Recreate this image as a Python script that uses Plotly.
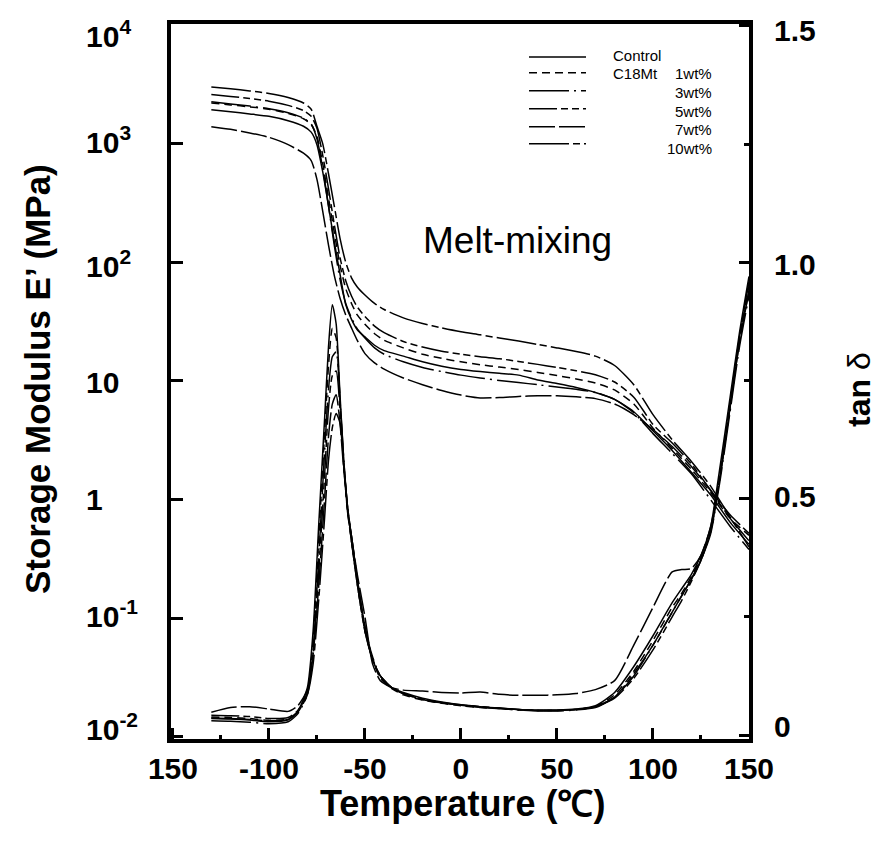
import plotly.graph_objects as go
import math

# ---------------- data ----------------
series_names = ["Control", "1wt%", "3wt%", "5wt%", "7wt%", "10wt%"]

temp_E = [-130, -120, -110, -100, -90, -82, -78, -75, -72, -69, -66, -63, -60, -57, -54,
          -50, -45, -40, -30, -20, -10, 0, 10, 20, 30, 40, 50, 60, 70, 80, 90, 100,
          110, 120, 130, 140, 150]

E_control = [1930, 1860, 1780, 1700, 1560, 1400, 1250, 980, 580, 300, 150, 80, 44, 33, 27,
             23.5, 20, 18, 16.2, 14.5, 13.3, 12.5, 12, 11.6, 11.2, 10.2, 9.5, 8.8, 8.0, 7.0,
             5.5, 3.8, 2.6, 1.7, 1.1, 0.65, 0.42]
E_1wt = [2200, 2120, 2040, 1950, 1800, 1620, 1450, 1150, 680, 350, 180, 95, 60, 45, 36,
         30, 25, 22, 19, 16.8, 15.5, 14.5, 13.7, 13.1, 12.5, 11.8, 11.1, 10.4, 9.6, 8.4,
         6.4, 4.0, 2.7, 1.8, 1.15, 0.7, 0.5]
E_3wt = [2250, 2160, 2070, 1970, 1820, 1640, 1460, 1100, 620, 300, 140, 72, 45, 34, 27.5,
         23, 19, 16.8, 14.5, 13, 12, 11.2, 10.6, 10.1, 9.7, 9.3, 8.9, 8.5, 8.0, 7.0,
         5.4, 3.6, 2.45, 1.65, 1.0, 0.6, 0.38]
E_5wt = [2600, 2500, 2400, 2280, 2100, 1900, 1700, 1350, 800, 420, 210, 110, 70, 52, 42,
         35, 29, 25.5, 21.5, 19.3, 17.8, 16.8, 16, 15.4, 14.6, 13.8, 13, 12.2, 11.3, 9.8,
         7.3, 4.3, 3.0, 2.0, 1.2, 0.7, 0.45]
E_7wt = [1390, 1320, 1230, 1130, 980, 830, 720, 500, 270, 140, 78, 50, 36, 28, 22,
         17, 14.2, 12.6, 10.6, 9.3, 8.3, 7.6, 7.2, 7.25, 7.4, 7.5, 7.5, 7.35, 7.1, 6.4,
         5.2, 3.9, 2.8, 1.9, 1.2, 0.75, 0.52]
E_10wt = [3000, 2900, 2780, 2650, 2450, 2200, 1950, 1400, 1000, 560, 300, 160, 100, 74, 62,
          53, 45, 40, 34, 30.5, 28, 26, 24.5, 23, 21.7, 20.3, 19, 17.7, 16.2, 13.5,
          9.3, 5.2, 3.2, 2.1, 1.3, 0.72, 0.4]

temp_tan = [-130, -120, -110, -100, -90, -85, -80, -77, -74, -71, -69, -67, -65, -63, -61,
            -59, -57, -54, -50, -46, -42, -36, -30, -20, -10, 0, 10, 20, 30, 40, 50, 60,
            70, 80, 90, 100, 110, 115, 120, 125, 130, 135, 140, 145, 150]

tan_control = [0.035, 0.034, 0.032, 0.028, 0.032, 0.05, 0.10, 0.22, 0.45, 0.67, 0.82, 0.91,
               0.87, 0.72, 0.58, 0.47, 0.42, 0.33, 0.23, 0.16, 0.125, 0.10, 0.09, 0.078,
               0.07, 0.064, 0.06, 0.057, 0.054, 0.053, 0.053, 0.055, 0.062, 0.09, 0.145,
               0.21, 0.28, 0.31, 0.34, 0.38, 0.44, 0.57, 0.71, 0.85, 0.97]
tan_1wt = [0.038, 0.037, 0.035, 0.031, 0.034, 0.05, 0.09, 0.20, 0.42, 0.64, 0.78, 0.86,
           0.84, 0.71, 0.57, 0.47, 0.41, 0.32, 0.22, 0.16, 0.12, 0.098, 0.085, 0.074,
           0.067, 0.062, 0.058, 0.056, 0.053, 0.052, 0.052, 0.054, 0.06, 0.085, 0.135,
           0.20, 0.27, 0.30, 0.335, 0.375, 0.43, 0.55, 0.70, 0.84, 0.95]
tan_3wt = [0.030, 0.029, 0.027, 0.024, 0.028, 0.045, 0.085, 0.18, 0.38, 0.60, 0.73, 0.80,
           0.81, 0.71, 0.58, 0.48, 0.42, 0.33, 0.23, 0.165, 0.125, 0.10, 0.087, 0.075,
           0.068, 0.063, 0.059, 0.056, 0.053, 0.051, 0.051, 0.053, 0.058, 0.08, 0.125,
           0.19, 0.26, 0.295, 0.33, 0.37, 0.425, 0.54, 0.68, 0.82, 0.93]
tan_5wt = [0.042, 0.041, 0.039, 0.035, 0.037, 0.052, 0.09, 0.17, 0.35, 0.55, 0.69, 0.76,
           0.77, 0.69, 0.57, 0.48, 0.41, 0.32, 0.22, 0.16, 0.125, 0.10, 0.088, 0.076,
           0.069, 0.064, 0.06, 0.057, 0.054, 0.052, 0.052, 0.054, 0.06, 0.078, 0.12,
           0.18, 0.25, 0.285, 0.325, 0.37, 0.43, 0.55, 0.69, 0.83, 0.94]
tan_7wt = [0.048, 0.058, 0.06, 0.055, 0.05, 0.062, 0.095, 0.17, 0.32, 0.50, 0.63, 0.70,
           0.72, 0.66, 0.56, 0.48, 0.42, 0.34, 0.25, 0.15, 0.115, 0.10, 0.095, 0.093,
           0.09, 0.089, 0.091, 0.086, 0.084, 0.084, 0.085, 0.088, 0.096, 0.115, 0.19,
           0.27, 0.345, 0.35, 0.352, 0.38, 0.44, 0.55, 0.69, 0.83, 0.94]
tan_10wt = [0.036, 0.035, 0.033, 0.03, 0.033, 0.048, 0.085, 0.15, 0.29, 0.46, 0.58, 0.65,
            0.68, 0.66, 0.57, 0.48, 0.41, 0.32, 0.22, 0.16, 0.125, 0.10, 0.088, 0.075,
            0.068, 0.063, 0.059, 0.056, 0.054, 0.052, 0.052, 0.054, 0.06, 0.08, 0.13,
            0.19, 0.26, 0.295, 0.33, 0.37, 0.43, 0.55, 0.69, 0.84, 0.96]

E_series = [E_control, E_1wt, E_3wt, E_5wt, E_7wt, E_10wt]
tan_series = [tan_control, tan_1wt, tan_3wt, tan_5wt, tan_7wt, tan_10wt]

x_tickvals = [-150, -100, -50, 0, 50, 100, 150]
x_ticktext = ["150", "-100", "-50", "0", "50", "100", "150"]
x_minor = [-125, -75, -25, 25, 75, 125]
E_tickvals = [1e4, 1e3, 1e2, 10, 1, 0.1, 0.01]
E_ticktext = ["10<sup>4</sup>", "10<sup>3</sup>", "10<sup>2</sup>", "10", "1",
              "10<sup>-1</sup>", "10<sup>-2</sup>"]
tan_tickvals = [0, 0.5, 1.0, 1.5]
tan_ticktext = ["0", "0.5", "1.0", "1.5"]
tan_minor = [0.25, 0.75, 1.25]

# ---------------- styles ----------------
FONT = "Liberation Sans, Arial, Helvetica, sans-serif"
dashes = ["solid", "8px,5px", "40px,5px,2px,5px", "28px,4px,7px,4px,7px,4px",
          "26px,4px", "40px,4px,7px,4px"]
E_label_shift = [-9, 4, -2, -2, 0, 4, 10]
tan_label_shift = [9, 2, -2, -5]

W, H = 881, 852
L, R, T, B = 163, 741, 14, 731


def px(x):
    return (x - L) / (R - L)


def py(y):
    return (B - y) / (B - T)


fig = go.Figure()
for name, ys, d in zip(series_names, E_series, dashes):
    fig.add_trace(go.Scatter(x=temp_E, y=ys, mode="lines", name=name,
                             line=dict(color="black", width=1.5, dash=d, shape="spline",
                                       smoothing=0.6),
                             showlegend=False, yaxis="y"))
for name, ys, d in zip(series_names, tan_series, dashes):
    fig.add_trace(go.Scatter(x=temp_tan, y=ys, mode="lines", name=name + " tanδ",
                             line=dict(color="black", width=1.5, dash=d, shape="spline",
                                       smoothing=0.6),
                             showlegend=False, yaxis="y2"))

fig.update_layout(
    width=W, height=H,
    margin=dict(l=L, r=W - R, t=T, b=H - B, pad=0),
    paper_bgcolor="white", plot_bgcolor="white",
    font=dict(family=FONT, color="black"),
    showlegend=False,
    xaxis=dict(range=[-151, 150], tickmode="array", tickvals=x_tickvals,
               ticktext=x_ticktext, ticks="inside", ticklen=11, tickwidth=3,
               tickcolor="black", showline=True, linewidth=4, linecolor="black",
               mirror=True, showgrid=False, zeroline=False,
               tickfont=dict(size=30, family=FONT, weight="bold"),
               ticklabelstandoff=0,
               minor=dict(tickvals=x_minor, ticks="inside", ticklen=4, tickwidth=3,
                          tickcolor="black", showgrid=False)),
    yaxis=dict(type="log", range=[-2.017, 4.008], tickmode="array", tickvals=E_tickvals,
               ticks="inside", ticklen=12, tickwidth=3, tickcolor="black",
               showticklabels=False, showline=True, linewidth=4, linecolor="black",
               showgrid=False, zeroline=False),
    yaxis2=dict(overlaying="y", side="right", range=[-0.0084, 1.504], tickmode="array",
                tickvals=tan_tickvals, ticks="inside", ticklen=10, tickwidth=3,
                tickcolor="black", showticklabels=False, showline=True, linewidth=4,
                linecolor="black", showgrid=False, zeroline=False,
                minor=dict(tickvals=tan_minor, ticks="inside", ticklen=5, tickwidth=3,
                           tickcolor="black", showgrid=False)),
)

ann = []
for v, t, s in zip(E_tickvals, E_ticktext, E_label_shift):
    ann.append(dict(x=px(76), xref="paper", y=math.log10(v), yref="y", text=t,
                    showarrow=False, xanchor="left", yanchor="middle", yshift=s,
                    font=dict(size=30, family=FONT, weight="bold")))
for v, t, s in zip(tan_tickvals, tan_ticktext, tan_label_shift):
    ann.append(dict(x=px(764), xref="paper", y=v, yref="y2", text=t,
                    showarrow=False, xanchor="left", yanchor="middle", yshift=s,
                    font=dict(size=30, family=FONT, weight="bold")))

ann.append(dict(x=px(29), y=py(370), xref="paper", yref="paper",
                xanchor="center", yanchor="middle",
                text="Storage Modulus E’ (MPa)", textangle=-90, showarrow=False,
                font=dict(size=35, family=FONT, weight="bold")))
ann.append(dict(x=px(454), y=py(796), xref="paper", yref="paper",
                xanchor="center", yanchor="middle",
                text="Temperature (℃)", showarrow=False,
                font=dict(size=36, family=FONT, weight="bold")))
ann.append(dict(x=px(871), y=py(380), xref="paper", yref="paper",
                xanchor="right", yanchor="middle",
                text="<b>tan</b> δ", textangle=-90, showarrow=False,
                font=dict(size=32, family=FONT)))
ann.append(dict(x=px(509), y=py(231), xref="paper", yref="paper",
                xanchor="center", yanchor="middle",
                text="Melt-mixing", showarrow=False,
                font=dict(size=37, family=FONT)))

# legend (drawn manually)
leg_line_y = [47, 63, 81, 99, 117, 134]
leg_text_y = [46, 64, 83, 102, 120, 139]
shapes = []
for d, ly in zip(dashes, leg_line_y):
    shapes.append(dict(type="line", xref="paper", yref="paper", x0=px(521), x1=px(578),
                       y0=py(ly), y1=py(ly), line=dict(color="black", width=1.5, dash=d)))
ann.append(dict(x=px(603), y=py(leg_text_y[0]), xref="paper", yref="paper",
                text="Control", showarrow=False, xanchor="left", yanchor="middle",
                font=dict(size=15, family=FONT)))
ann.append(dict(x=px(603), y=py(leg_text_y[1]), xref="paper", yref="paper",
                text="C18Mt", showarrow=False, xanchor="left", yanchor="middle",
                font=dict(size=15, family=FONT)))
for name, ty in zip(series_names[1:], leg_text_y[1:]):
    ann.append(dict(x=px(706), y=py(ty), xref="paper", yref="paper",
                    text=name, showarrow=False, xanchor="right", yanchor="middle",
                    font=dict(size=15, family=FONT)))

fig.update_layout(annotations=ann, shapes=shapes)
fig.write_html("out.html")
